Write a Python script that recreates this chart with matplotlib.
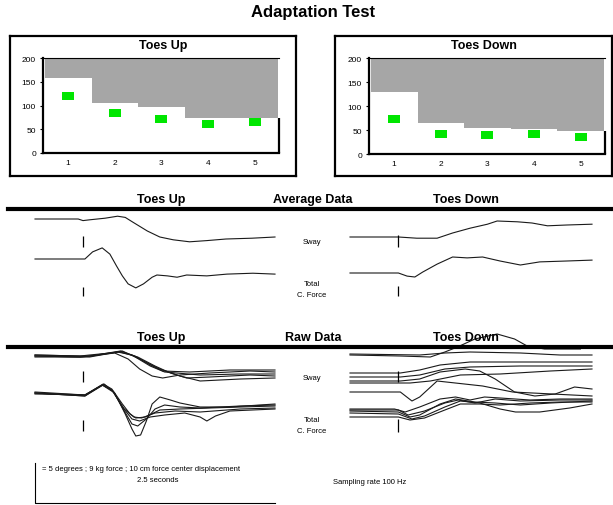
import matplotlib
matplotlib.use("Agg")
import matplotlib.pyplot as plt

plt.rcParams['font.family'] = ['Liberation Sans', 'DejaVu Sans']

W, H = 613, 506
DPI = 100

# ---------------- data ----------------
trials = [1, 2, 3, 4, 5]
y_ticks = [0, 50, 100, 150, 200]
up_limit = [157, 106, 97, 74, 74]
up_score = [120, 85, 72, 61, 65]
down_limit = [129, 64, 55, 52, 48]
down_score = [73, 42, 40, 41, 35]

# average traces (time in s; sway in degrees, force in kg, relative to baseline)
avg_up_sway_t = [0, 0.45, 0.5, 0.57, 0.73, 0.86, 0.94, 1.02, 1.17, 1.3, 1.44, 1.61, 1.79, 1.99, 2.26, 2.5]
avg_up_sway = [0, 0, -0.2, -0.1, 0.1, 0.35, 0.2, -0.4, -1.5, -2.25, -2.6, -2.85, -2.7, -2.5, -2.4, -2.25]
avg_up_force_t = [0, 0.52, 0.6, 0.7, 0.78, 0.85, 0.91, 0.97, 1.05, 1.13, 1.22, 1.27, 1.38, 1.48, 1.58, 1.79, 2.0, 2.27, 2.5]
avg_up_force = [0, 0, 1.6, 2.5, 1.1, -1.6, -3.8, -5.6, -6.5, -5.6, -4.1, -3.6, -3.8, -4.1, -3.6, -3.8, -3.4, -3.2, -3.4]
avg_down_sway_t = [0, 0.5, 0.69, 0.9, 1.06, 1.24, 1.42, 1.52, 1.73, 1.88, 2.04, 2.24, 2.5]
avg_down_sway = [0, 0, -0.15, -0.15, 0.5, 1.1, 1.6, 2.0, 1.9, 1.75, 1.4, 1.5, 1.6]
avg_down_force_t = [0, 0.5, 0.59, 0.67, 0.75, 0.9, 1.06, 1.21, 1.37, 1.55, 1.76, 1.96, 2.24, 2.5]
avg_down_force = [0, 0, -0.7, -0.9, 0.2, 2.0, 3.6, 3.4, 3.6, 2.7, 1.8, 2.5, 2.7, 2.9]

# raw traces
raw_up_sway_t = [
    [0, 0.47, 0.57, 0.89, 1.04, 1.2, 1.33, 1.61, 2.03, 2.5],
    [0, 0.47, 0.57, 0.86, 1.01, 1.2, 1.35, 1.72, 2.14, 2.5],
    [0, 0.47, 0.57, 0.83, 0.97, 1.09, 1.22, 1.33, 1.51, 1.82, 2.24, 2.5],
    [0, 0.47, 0.59, 0.91, 1.09, 1.3, 1.51, 1.72, 2.14, 2.5],
    [0, 0.47, 0.57, 0.89, 1.07, 1.25, 1.41, 1.58, 1.82, 2.24, 2.5],
]
raw_up_sway = [
    [0.125, 0, 0, 0.625, 0, -1.125, -1.875, -2, -1.75, -1.75],
    [0, -0.125, -0.125, 0.5, 0.125, -1.25, -2, -2.375, -2.25, -2.25],
    [-0.125, -0.125, 0, 0.375, -0.375, -1.625, -2.5, -2.75, -2.375, -2.125, -1.875, -2],
    [0, -0.125, 0, 0.625, -0.375, -1.625, -2.5, -3.125, -2.875, -2.75],
    [0.125, 0, 0.125, 0.5, -0.125, -1.25, -2.125, -2.75, -2.625, -2.375, -2.5],
]
raw_up_force_t = [
    [0, 0.52, 0.71, 0.8, 0.91, 0.99, 1.05, 1.15, 1.3, 1.51, 1.82, 2.14, 2.5],
    [0, 0.52, 0.7, 0.83, 0.94, 1.01, 1.05, 1.1, 1.16, 1.22, 1.3, 1.41, 1.51, 1.72, 2.03, 2.5],
    [0, 0.52, 0.72, 0.82, 0.93, 1.01, 1.07, 1.16, 1.25, 1.35, 1.51, 1.72, 2.14, 2.5],
    [0, 0.52, 0.71, 0.81, 0.91, 1.01, 1.09, 1.2, 1.35, 1.56, 1.72, 1.79, 1.88, 2.03, 2.5],
    [0, 0.52, 0.7, 0.8, 0.93, 1.03, 1.11, 1.25, 1.46, 1.72, 2.14, 2.5],
]
raw_up_force = [
    [0.225, -0.45, 2.025, 0.9, -2.475, -4.725, -5.625, -5.4, -3.825, -3.6, -3.375, -3.15, -2.925],
    [0, -0.675, 1.8, 0, -4.725, -8.1, -9.675, -9.45, -6.3, -2.475, -0.9, -1.575, -2.25, -3.15, -3.15, -2.475],
    [-0.225, -0.45, 2.025, 0.225, -4.05, -6.975, -7.425, -5.85, -3.6, -2.7, -3.15, -3.375, -2.925, -2.7],
    [0, -0.675, 1.8, 0.45, -3.15, -5.85, -6.3, -5.4, -4.95, -4.5, -5.4, -6.3, -5.175, -4.05, -3.6],
    [0, -0.45, 1.8, 0.675, -3.6, -5.4, -5.625, -4.5, -4.05, -4.275, -3.6, -3.375],
]
raw_down_sway_t = [
    [0, 0.52, 0.83, 0.98, 1.11, 1.29, 1.52, 1.7, 1.83, 2.01, 2.38],
    [0, 0.72, 0.98, 1.24, 1.76, 2.17, 2.5],
    [0, 0.52, 0.72, 0.93, 1.24, 1.76, 2.5],
    [0, 0.52, 0.72, 0.98, 1.24, 1.76, 2.5],
    [0, 0.52, 0.72, 0.93, 1.19, 1.34, 1.5, 1.7, 1.91, 2.12, 2.32, 2.5],
    [0, 0.62, 0.83, 1.14, 1.55, 2.07, 2.5],
    [0, 0.52, 0.64, 0.72, 0.9, 1.37, 1.68, 2.5],
]
raw_down_sway = [
    [2.25, 2.125, 2, 2.625, 3.25, 4.25, 4.875, 4.25, 3.375, 3, 3],
    [2.375, 2.25, 2.5, 2.625, 2.5, 2.25, 2.25],
    [0, 0, 0.375, 1, 1.375, 1.375, 1.375],
    [-0.5, -0.5, -0.25, 0.5, 0.75, 0.875, 0.875],
    [-1, -1, -0.75, 0.125, 0.5, 0.25, -0.75, -2.375, -2.875, -2.625, -1.75, -2],
    [-1.25, -1.25, -1, -0.25, -0.125, 0.25, 0.5],
    [-2.375, -2.375, -3.5, -3, -1, -1.625, -2.375, -2.875],
]
raw_down_force_t = [
    [0, 0.46, 0.57, 0.72, 0.93, 1.09, 1.24, 1.39, 1.55, 1.86, 2.17, 2.5],
    [0, 0.5, 0.62, 0.72, 0.93, 1.09, 1.29, 1.5, 1.76, 2.07, 2.5],
    [0, 0.5, 0.64, 0.77, 0.98, 1.14, 1.34, 1.55, 1.71, 1.96, 2.27, 2.5],
    [0, 0.5, 0.62, 0.77, 0.98, 1.14, 1.34, 1.55, 1.86, 2.17, 2.5],
    [0, 0.5, 0.6, 0.77, 0.98, 1.12, 1.29, 1.5, 1.76, 2.17, 2.5],
]
raw_down_force = [
    [0.45, 0.45, -0.225, 0.9, 2.7, 3.15, 2.475, 3.15, 2.925, 2.475, 2.7, 2.7],
    [0, -0.225, -1.35, -0.9, 1.575, 2.7, 2.025, 1.8, 1.35, 1.8, 2.25],
    [-0.45, -0.675, -1.8, -1.125, 0.9, 2.25, 1.8, 0.45, -0.225, -0.225, 0.675, 1.575],
    [-1.35, -1.35, -2.025, -1.575, 0.225, 1.575, 1.575, 1.35, 1.8, 2.025, 2.025],
    [0.225, 0.225, -0.9, 0, 1.8, 2.475, 1.8, 2.7, 2.25, 2.475, 2.475],
]

stim_time = 0.5
scale_seconds = 2.5
scale_deg = 5
scale_kg = 9

# ---------------- helpers ----------------
fig = plt.figure(figsize=(W / DPI, H / DPI), dpi=DPI)
fig.patch.set_facecolor('white')


def rect(x0, y0, x1, y1):
    return [x0 / W, 1 - y1 / H, (x1 - x0) / W, (y1 - y0) / H]


def ftext(x, y, s, **kw):
    fig.text(x / W, 1 - y / H, s, ha=kw.pop('ha', 'center'), va=kw.pop('va', 'center'), **kw)


GRAY = '#a6a6a6'
GREEN = '#00e600'

# ---------------- top bar panels ----------------
def score_panel(box, area, title, limit, score):
    bx = fig.add_axes(rect(*box))
    bx.set_xticks([]); bx.set_yticks([])
    for s in bx.spines.values():
        s.set_linewidth(1.6)
    bx.set_zorder(0)
    ax = fig.add_axes(rect(*area))
    ax.set_zorder(1)
    ax.patch.set_alpha(0)
    ax.bar(trials, [200 - v for v in limit], bottom=limit, width=1.0, color=GRAY, linewidth=0)
    ax.plot(trials, score, linestyle='none', marker=[(-1.5, -1), (1.5, -1), (1.5, 1), (-1.5, 1)],
            markersize=8, color=GREEN, markeredgewidth=0)
    ax.set_xlim(0.46, 5.52)
    ax.set_ylim(0, 200)
    ax.vlines(5.52, 0, limit[-1], color='black', linewidth=1.6, clip_on=False)
    ax.spines['right'].set_visible(False)
    ax.spines['top'].set_linewidth(0.8)
    ax.spines['left'].set_linewidth(1.6)
    ax.spines['bottom'].set_linewidth(1.6)
    ax.set_xticks(trials)
    ax.set_yticks(y_ticks)
    ax.tick_params(axis='both', length=2, width=0.8, labelsize=6, pad=3)
    ax.tick_params(axis='x', length=0, pad=4)
    ftext((box[0] + box[2]) / 2 + 10, 46, title, fontsize=9, fontweight='bold')


ftext(313, 12, 'Adaptation Test', fontsize=12, fontweight='bold')
score_panel((10, 37, 296, 177), (43, 59, 279, 154), 'Toes Up', up_limit, up_score)
score_panel((335, 37, 612, 177), (369, 59, 605, 155), 'Toes Down', down_limit, down_score)

# ---------------- trace panels ----------------
PX_PER_DEG = 8.0
KG_TO_DEG = scale_deg / scale_kg


def trace_panel(px0, px1, py0, py1):
    ax = fig.add_axes(rect(px0, py0, px1, py1))
    ax.set_xlim(0, scale_seconds)
    ax.set_ylim(0, (py1 - py0) / PX_PER_DEG)
    ax.axis('off')
    ax.patch.set_alpha(0)
    return ax


LW = 0.8
LC = '#1a1a1a'

# Average data
ax = trace_panel(35, 275, 212, 305)
ax.plot(avg_up_sway_t, [v + 10.625 for v in avg_up_sway], color=LC, lw=LW, clip_on=False)
ax.plot(avg_up_force_t, [v * KG_TO_DEG + 5.625 for v in avg_up_force], color=LC, lw=LW, clip_on=False)
ax.vlines(stim_time, 7.125, 8.5, color='black', lw=0.9)
ax.vlines(stim_time, 1.0, 2.125, color='black', lw=0.9)

ax = trace_panel(350, 592, 212, 305)
ax.plot(avg_down_sway_t, [v + 8.375 for v in avg_down_sway], color=LC, lw=LW, clip_on=False)
ax.plot(avg_down_force_t, [v * KG_TO_DEG + 3.875 for v in avg_down_force], color=LC, lw=LW, clip_on=False)
ax.vlines(stim_time, 7.125, 8.625, color='black', lw=0.9)
ax.vlines(stim_time, 1.0, 2.25, color='black', lw=0.9)

# Raw data
ax = trace_panel(35, 275, 345, 445)
for t, v in zip(raw_up_sway_t, raw_up_sway):
    ax.plot(t, [x + 11.0 for x in v], color=LC, lw=LW, clip_on=False)
for t, v in zip(raw_up_force_t, raw_up_force):
    ax.plot(t, [x * KG_TO_DEG + 6.375 for x in v], color=LC, lw=LW, clip_on=False)
ax.vlines(stim_time, 7.75, 9.125, color='black', lw=0.9)
ax.vlines(stim_time, 1.625, 3.0, color='black', lw=0.9)

ax = trace_panel(350, 592, 330, 445)
for t, v in zip(raw_down_sway_t, raw_down_sway):
    ax.plot(t, [x + 8.875 for x in v], color=LC, lw=LW, clip_on=False)
for t, v in zip(raw_down_force_t, raw_down_force):
    ax.plot(t, [x * KG_TO_DEG + 4.125 for x in v], color=LC, lw=LW, clip_on=False)
ax.vlines(stim_time, 7.75, 9.125, color='black', lw=0.9)
ax.vlines(stim_time, 1.5, 3.125, color='black', lw=0.9)

# section headers and separators
for yh, yl, name in [(200, 210, 'Average Data'), (338, 348, 'Raw Data')]:
    ftext(161, yh, 'Toes Up', fontsize=9, fontweight='bold')
    ftext(313, yh, name, fontsize=9, fontweight='bold')
    ftext(466, yh, 'Toes Down', fontsize=9, fontweight='bold')
    fig.add_artist(plt.Line2D([8 / W, 1.0], [1 - yl / H, 1 - yl / H], color='black', lw=3.0))

for ys, yt, yc in [(242, 285, 296), (378, 421, 432)]:
    ftext(312, ys, 'Sway', fontsize=5.5)
    ftext(312, yt, 'Total', fontsize=5.5)
    ftext(312, yc, 'C. Force', fontsize=5.5)

# calibration bar
cal = fig.add_axes(rect(35, 464, 275, 504))
cal.set_xlim(0, scale_seconds)
cal.set_ylim(0, scale_deg)
cal.axis('off')
cal.plot([0, 0, scale_seconds], [scale_deg, 0, 0], color='black', lw=0.8, clip_on=False)
ftext(42, 470, '= 5 degrees ; 9 kg force ; 10 cm force center displacement', fontsize=5.5, ha='left')
ftext(158, 481, '2.5 seconds', fontsize=5.5)
ftext(370, 483, 'Sampling rate 100 Hz', fontsize=5.5)

fig.savefig('out.png', dpi=DPI)
